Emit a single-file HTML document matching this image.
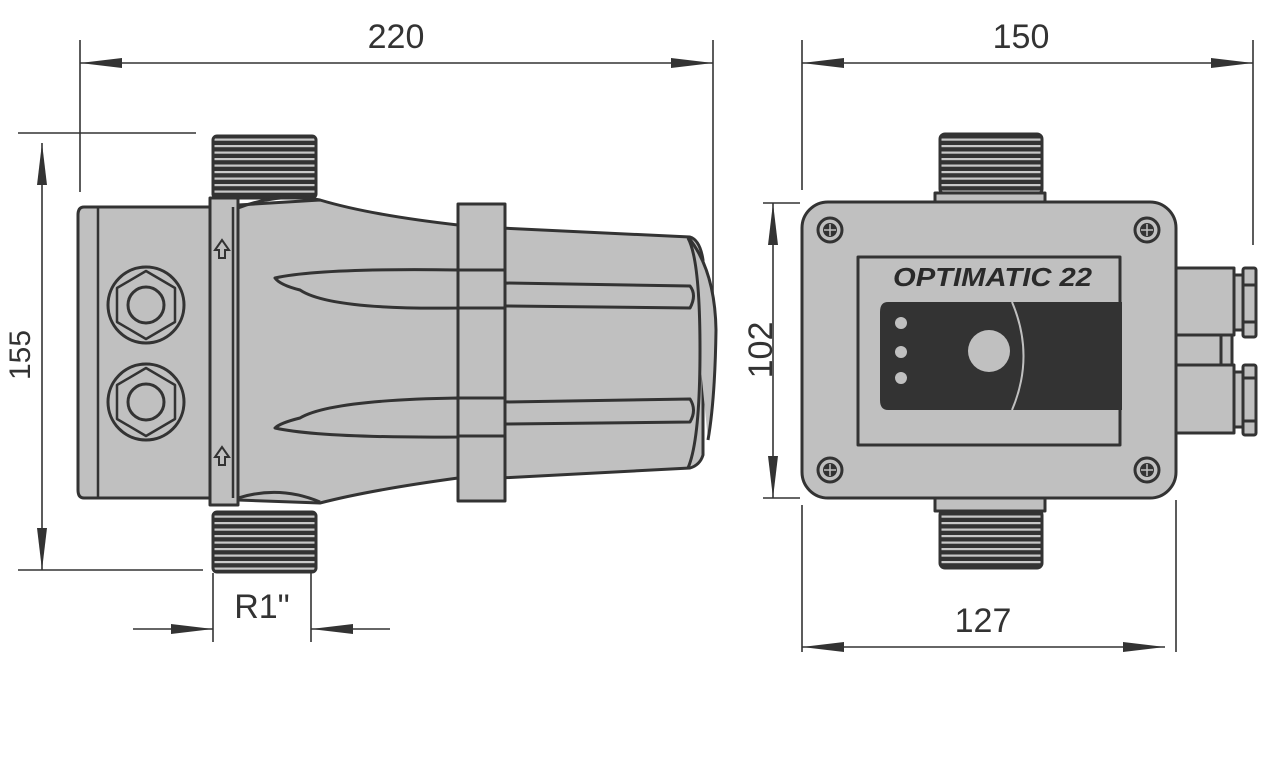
<!DOCTYPE html>
<html><head><meta charset="utf-8"><style>
html,body{margin:0;padding:0;background:#fff;}
svg{display:block;}
text{font-family:"Liberation Sans",sans-serif;fill:#333;}
</style></head><body>
<svg width="1274" height="777" viewBox="0 0 1274 777" xmlns="http://www.w3.org/2000/svg">
<defs>
<marker id="a" markerWidth="42" markerHeight="10" refX="42" refY="5" orient="auto" markerUnits="userSpaceOnUse"><path d="M0,0 L42,5 L0,10 Z" fill="#333"/></marker>
<marker id="as" markerWidth="42" markerHeight="10" refX="0" refY="5" orient="auto" markerUnits="userSpaceOnUse"><path d="M42,0 L0,5 L42,10 Z" fill="#333"/></marker>
<pattern id="thr" width="10" height="6.5" patternUnits="userSpaceOnUse"><rect width="10" height="6.5" fill="#333"/><rect y="2" width="10" height="2.2" fill="#c8c8c8"/></pattern>
</defs>
<g stroke="#333" stroke-width="1.6" fill="none">
<line x1="80" y1="40" x2="80" y2="192"/>
<line x1="713" y1="40" x2="713" y2="310"/>
<line x1="80" y1="63" x2="713" y2="63" marker-start="url(#as)" marker-end="url(#a)"/>
<line x1="18" y1="133" x2="196" y2="133"/>
<line x1="18" y1="570" x2="203" y2="570"/>
<line x1="42" y1="143" x2="42" y2="570" marker-start="url(#as)" marker-end="url(#a)"/>
<line x1="213" y1="573" x2="213" y2="642"/>
<line x1="311" y1="573" x2="311" y2="642"/>
<line x1="133" y1="629" x2="213" y2="629" marker-end="url(#a)"/>
<line x1="390" y1="629" x2="311" y2="629" marker-end="url(#a)"/>
<line x1="802" y1="40" x2="802" y2="190"/>
<line x1="1253" y1="40" x2="1253" y2="245"/>
<line x1="802" y1="63" x2="1253" y2="63" marker-start="url(#as)" marker-end="url(#a)"/>
<line x1="763" y1="203" x2="800" y2="203"/>
<line x1="763" y1="498" x2="800" y2="498"/>
<line x1="773" y1="203" x2="773" y2="498" marker-start="url(#as)" marker-end="url(#a)"/>
<line x1="802" y1="505" x2="802" y2="652"/>
<line x1="1176" y1="500" x2="1176" y2="652"/>
<line x1="802" y1="647" x2="1165" y2="647" marker-start="url(#as)"/>
<path d="M1123,642 L1165,647 L1123,652Z" fill="#333" stroke="none"/>
</g>
<text x="396" y="48" font-size="34" text-anchor="middle">220</text>
<text x="1021" y="48" font-size="34" text-anchor="middle">150</text>
<text x="983" y="632" font-size="34" text-anchor="middle">127</text>
<text x="262" y="618" font-size="34" text-anchor="middle">R1"</text>
<text transform="translate(30,355) rotate(-90)" font-size="30" text-anchor="middle">155</text>
<text transform="translate(772,350) rotate(-90)" font-size="34" text-anchor="middle">102</text>

<g stroke="#333" stroke-width="3" fill="#c0c0c0" stroke-linejoin="round">
<rect x="213" y="136" width="103" height="62" rx="4" fill="url(#thr)"/>
<rect x="213" y="512" width="103" height="60" rx="4" fill="url(#thr)"/>
<path d="M500,228 L690,237 Q700,240 703,260 L703,455 Q700,465 690,468 L500,478 Z"/>
<path d="M688,237 Q715,270 716,330 Q715,400 708,440"/>
<path d="M688,238 Q700,260 700,350 Q700,440 688,468"/>
<rect x="458" y="204" width="47" height="297"/>
<path d="M238,205 L320,200 Q370,215 458,225 L458,478 Q370,490 320,503 L238,500 Z"/>
<path d="M238,208 Q280,192 320,200" fill="none"/>
<path d="M238,498 Q280,485 320,502" fill="none"/>
<path d="M275,278 Q320,268 458,270 L458,308 Q330,310 300,290 Q280,285 275,278Z"/>
<rect x="458" y="270" width="47" height="38"/>
<path d="M505,283 L690,286 Q697,295 690,308 L505,306Z"/>
<path d="M275,428 Q320,438 458,437 L458,398 Q330,400 300,418 Q280,423 275,428Z"/>
<rect x="458" y="398" width="47" height="38"/>
<path d="M505,402 L690,399 Q697,410 690,422 L505,424Z"/>
<path d="M84,207 L210,207 L210,498 L84,498 Q78,498 78,490 L78,215 Q78,207 84,207Z"/>
<line x1="98" y1="207" x2="98" y2="498" stroke-width="2.5"/>
<rect x="210" y="198" width="28" height="307"/>
<line x1="233" y1="207" x2="233" y2="498" stroke-width="2.5"/>
<circle cx="146" cy="305" r="38"/><polygon points="146,271 175,288 175,322 146,339 117,322 117,288" fill="none" stroke-width="2.5"/><circle cx="146" cy="305" r="18"/>
<circle cx="146" cy="402" r="38"/><polygon points="146,368 175,385 175,419 146,436 117,419 117,385" fill="none" stroke-width="2.5"/><circle cx="146" cy="402" r="18"/>
</g>
<g fill="none" stroke="#333" stroke-width="2">
<path d="M222,240 L215,250 L219,250 L219,258 L225,258 L225,250 L229,250Z"/>
<path d="M222,447 L215,457 L219,457 L219,465 L225,465 L225,457 L229,457Z"/>
</g>

<g stroke="#333" stroke-width="3" fill="#c0c0c0" stroke-linejoin="round">
<rect x="940" y="134" width="102" height="60" rx="5" fill="url(#thr)"/>
<rect x="940" y="510" width="102" height="58" rx="5" fill="url(#thr)"/>
<rect x="935" y="193" width="110" height="12"/>
<rect x="935" y="496" width="110" height="15"/>
<rect x="1176" y="268" width="58" height="67"/>
<rect x="1234" y="275" width="9" height="55"/>
<rect x="1243" y="268" width="13" height="69" rx="2"/>
<line x1="1243" y1="285" x2="1256" y2="285"/><line x1="1243" y1="322" x2="1256" y2="322"/>
<rect x="1176" y="335" width="56" height="30"/>
<line x1="1221" y1="335" x2="1221" y2="365"/>
<rect x="1176" y="365" width="58" height="68"/>
<rect x="1234" y="372" width="9" height="55"/>
<rect x="1243" y="365" width="13" height="70" rx="2"/>
<line x1="1243" y1="378" x2="1256" y2="378"/><line x1="1243" y1="421" x2="1256" y2="421"/>
<rect x="802" y="202" width="374" height="296" rx="26"/>
<rect x="858" y="257" width="262" height="188"/>
</g>
<path d="M888,302 L1122,302 L1122,410 L888,410 Q880,410 880,400 L880,312 Q880,302 888,302Z" fill="#333"/>
<path d="M1012,302 Q1035,356 1012,410" stroke="#c0c0c0" stroke-width="2" fill="none"/>
<circle cx="901" cy="323" r="6" fill="#c0c0c0"/>
<circle cx="901" cy="352" r="6" fill="#c0c0c0"/>
<circle cx="901" cy="378" r="6" fill="#c0c0c0"/>
<circle cx="989" cy="351" r="21" fill="#c0c0c0"/>
<text x="893" y="286" font-size="26" font-weight="bold" font-style="italic" textLength="199" lengthAdjust="spacingAndGlyphs" style="fill:#2a2a2a">OPTIMATIC 22</text>
<g stroke="#333" fill="none">
<g transform="translate(830,230)"><circle r="12" stroke-width="3"/><circle r="7" fill="#333" stroke="none"/><path d="M-6,0H6M0,-6V6" stroke="#c0c0c0" stroke-width="1.5"/></g>
<g transform="translate(1147,230)"><circle r="12" stroke-width="3"/><circle r="7" fill="#333" stroke="none"/><path d="M-6,0H6M0,-6V6" stroke="#c0c0c0" stroke-width="1.5"/></g>
<g transform="translate(830,470)"><circle r="12" stroke-width="3"/><circle r="7" fill="#333" stroke="none"/><path d="M-6,0H6M0,-6V6" stroke="#c0c0c0" stroke-width="1.5"/></g>
<g transform="translate(1147,470)"><circle r="12" stroke-width="3"/><circle r="7" fill="#333" stroke="none"/><path d="M-6,0H6M0,-6V6" stroke="#c0c0c0" stroke-width="1.5"/></g>
</g>
</svg>
</body></html>
